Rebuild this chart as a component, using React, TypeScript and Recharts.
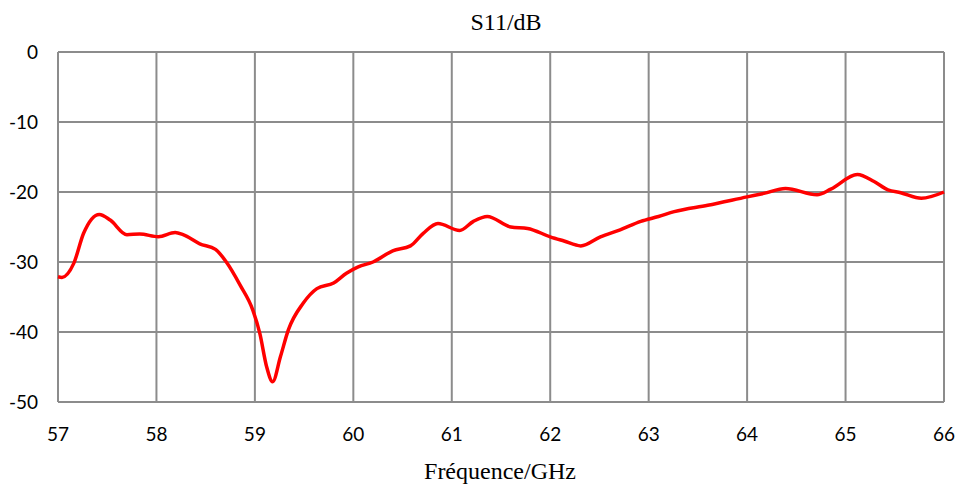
import React from 'react';
import { LineChart, Line, XAxis, YAxis, CartesianGrid } from 'recharts';

// fréquence (GHz)
const freq = [
  57.0, 57.04, 57.16, 57.26, 57.42, 57.53, 57.7, 57.83, 58.02, 58.19, 58.27, 58.44, 58.6, 58.71,
  58.85, 58.98, 59.05, 59.12, 59.18, 59.26, 59.34, 59.49, 59.63, 59.8, 59.93, 60.05, 60.2, 60.4,
  60.58, 60.71, 60.86, 61.08, 61.22, 61.36, 61.6, 61.77, 62.0, 62.14, 62.31, 62.51, 62.71, 62.92,
  63.1, 63.26, 63.6, 64.0, 64.17, 64.39, 64.71, 64.85, 65.12, 65.29, 65.43, 65.56, 65.77, 66.0,
];

// S11 (dB)
const s11 = [
  -32.1, -32.2, -30.2, -25.9, -23.2, -24.0, -26.1, -26.0, -26.4, -25.8, -26.1, -27.4, -28.2, -30.0,
  -33.3, -36.9, -40.2, -45.0, -47.1, -43.5, -39.7, -35.9, -33.8, -33.0, -31.6, -30.7, -30.0, -28.4,
  -27.7, -25.9, -24.5, -25.5, -24.2, -23.5, -25.0, -25.2, -26.4, -27.0, -27.7, -26.4, -25.4, -24.2,
  -23.5, -22.8, -21.9, -20.7, -20.2, -19.5, -20.4, -19.6, -17.5, -18.5, -19.7, -20.1, -20.9, -20.0,
];

const xTicks = [57, 58, 59, 60, 61, 62, 63, 64, 65, 66];
const yTicks = [0, -10, -20, -30, -40, -50];

const data = freq.map((f, i) => ({ f, s11: s11[i] }));

const tickStyle = { fill: '#000', fontSize: 19, fontFamily: 'Lato, "Open Sans", sans-serif' };
const serif = '"Liberation Serif", "Times New Roman", serif';

const App = () => {
  return (
    <div style={{ position: 'absolute', left: 0, top: 0, width: 960, height: 487, background: '#fff' }}>
      <div
        style={{
          position: 'absolute', left: 0, width: 960, top: 9, textAlign: 'center', paddingLeft: 52,
          boxSizing: 'border-box', fontFamily: serif, fontSize: 24, lineHeight: 'normal',
        }}
      >
        S11/dB
      </div>
      <div
        style={{
          position: 'absolute', left: 0, width: 960, top: 458, textAlign: 'center', paddingLeft: 40,
          boxSizing: 'border-box', fontFamily: serif, fontSize: 24, lineHeight: 'normal',
        }}
      >
        Fréquence/GHz
      </div>
      <LineChart width={960} height={487} data={data} margin={{ top: 52, right: 16, bottom: 55, left: 0 }}>
        <CartesianGrid stroke="#8c8c8c" strokeWidth={2} />
        <XAxis
          dataKey="f"
          type="number"
          domain={[57, 66]}
          ticks={xTicks}
          axisLine={false}
          tickLine={false}
          tick={tickStyle}
          tickMargin={20}
          height={30}
          interval={0}
        />
        <YAxis
          type="number"
          domain={[-50, 0]}
          ticks={yTicks}
          axisLine={false}
          tickLine={false}
          tick={tickStyle}
          width={58}
          tickMargin={14}
          interval={0}
        />
        <Line
          type="monotone"
          dataKey="s11"
          stroke="#ff0000"
          strokeWidth={3.5}
          dot={false}
          isAnimationActive={false}
        />
      </LineChart>
    </div>
  );
};

export default App;
